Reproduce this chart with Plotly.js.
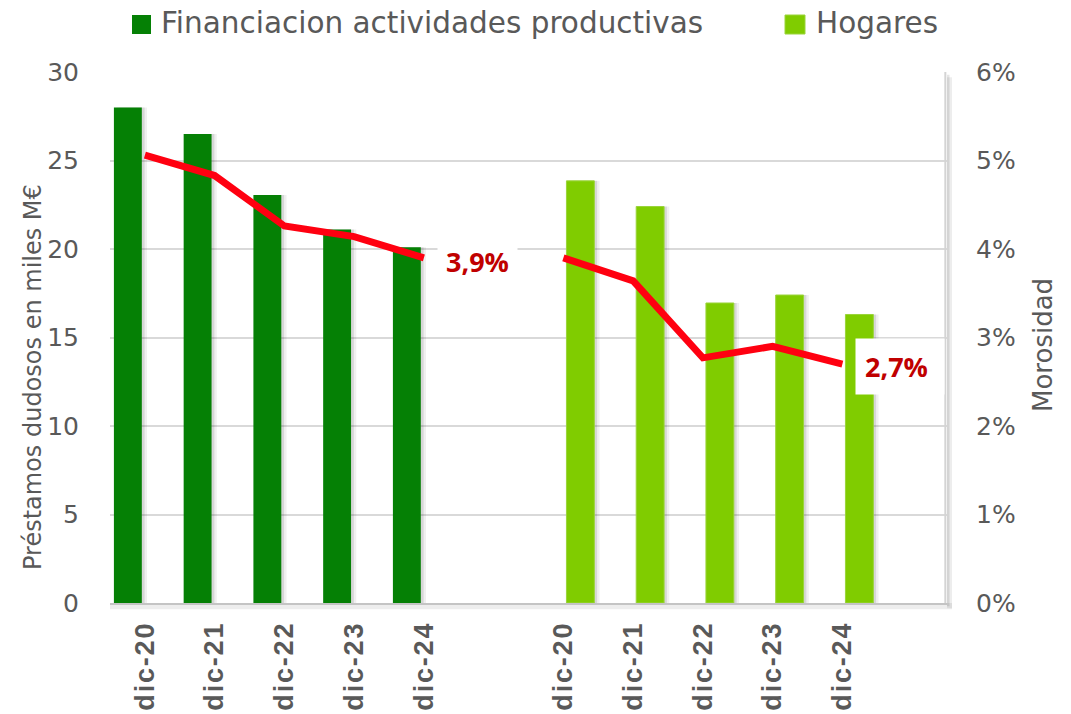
<!DOCTYPE html>
<html>
<head>
<meta charset="utf-8">
<script src="https://cdn.plot.ly/plotly-3.0.1.min.js"></script>
<style>
html,body{margin:0;padding:0;background:#fff;}
#chart{width:1071px;height:714px;}
#chart .xtick text{letter-spacing:1.8px;}
</style>
</head>
<body>
<div id="chart"></div>
<script>
// ---- data ----
const categories = ["dic-20","dic-21","dic-22","dic-23","dic-24","","dic-20","dic-21","dic-22","dic-23","dic-24",""];
const financiacion = [28.0, 26.5, 23.05, 21.1, 20.1, null, null, null, null, null, null, null];
const hogares      = [null, null, null, null, null, null, 23.85, 22.4, 16.95, 17.4, 16.3, null];
const morosidad    = [5.06, 4.83, 4.26, 4.14, 3.9, null, 3.9, 3.64, 2.77, 2.9, 2.7, null];
const leftTicks  = [0, 5, 10, 15, 20, 25, 30];
const rightTicks = [0, 1, 2, 3, 4, 5, 6];
const seriesNames = ["Financiacion actividades productivas", "Hogares"];
const seriesColors = ["#058005", "#80cc00"];
const leftTitle = "Préstamos dudosos en miles M€";
const rightTitle = "Morosidad";

const xIdx = categories.map((c, i) => i);
const FONT = "DejaVu Sans, sans-serif";
const GRAY = "#595959";
const BW = 0.4;
// pixel -> paper helpers (plot area: x 110..947, y 72..603)
const px = x => (x - 110) / 837;
const py = y => (603 - y) / 531;

const shadow = (vals, off, a) => ({
  type: "bar", x: xIdx, y: vals, width: BW, offset: off,
  marker: {color: "rgba(0,0,0," + a + ")"}, showlegend: false, hoverinfo: "skip"
});

const traces = [
  shadow(financiacion, -0.444 + 0.075, 0.06),
  shadow(financiacion, -0.444 + 0.04, 0.10),
  shadow(hogares, 0.044 + 0.075, 0.06),
  shadow(hogares, 0.044 + 0.04, 0.10),
  {type: "bar", name: seriesNames[0], x: xIdx, y: financiacion, showlegend: false,
   width: BW, offset: -0.444, marker: {color: seriesColors[0]}},
  {type: "bar", name: seriesNames[1], x: xIdx, y: hogares, showlegend: false,
   width: BW, offset: 0.044, marker: {color: seriesColors[1], line: {color: "#9ad43a", width: 1}}},
  {type: "scatter", mode: "lines", name: rightTitle, x: xIdx, y: morosidad, yaxis: "y2",
   connectgaps: false, showlegend: false,
   line: {color: "#ff0010", width: 7, shape: "linear"}}
];

const fmt = v => v.toFixed(1).replace(".", ",") + "%";
const labelFont = {family: "Open Sans, sans-serif", size: 27, color: "#c00000", weight: "bold"};

// manual legend (square + text)
const legendSquares = [
  {x0: px(132), x1: px(151), y0: py(34), y1: py(15), fillcolor: seriesColors[0], line: {width: 0}},
  {x0: px(785), x1: px(805), y0: py(34), y1: py(15), fillcolor: seriesColors[1], line: {color: "#9ad43a", width: 1}}
].map(s => Object.assign({type: "rect", xref: "paper", yref: "paper"}, s));
const legendTexts = [
  {x: px(159), text: seriesNames[0]},
  {x: px(814), text: seriesNames[1]}
].map(t => Object.assign({y: py(23), xref: "paper", yref: "paper", showarrow: false,
  xanchor: "left", yanchor: "middle", font: {family: FONT, size: 29.5, color: GRAY}}, t));

const layout = {
  width: 1071, height: 714,
  margin: {l: 110, r: 124, t: 72, b: 111, autoexpand: false},
  paper_bgcolor: "#ffffff", plot_bgcolor: "#ffffff",
  barmode: "overlay",
  showlegend: false,
  xaxis: {
    range: [-0.5, 11.5], tickmode: "array", tickvals: xIdx, ticktext: categories,
    tickangle: -90, showgrid: false, zeroline: false,
    showline: true, linecolor: "#c4c4c4", linewidth: 2,
    ticks: "", ticklabelstandoff: 6,
    tickfont: {family: "Liberation Sans, Arial, sans-serif", size: 27, color: GRAY, weight: "bold"}
  },
  yaxis: {
    range: [0, 30], tickmode: "array", tickvals: leftTicks, ticktext: leftTicks.map(String),
    showgrid: true, gridcolor: "#d9d9d9", gridwidth: 2, zeroline: false, showline: false,
    ticks: "", ticklabelstandoff: 30,
    tickfont: {family: FONT, size: 25, color: GRAY}
  },
  yaxis2: {
    overlaying: "y", side: "right", range: [0, 6], tickmode: "array",
    tickvals: rightTicks, ticktext: rightTicks.map(v => v + "%"),
    showgrid: false, zeroline: false, showline: false, ticks: "", ticklabelstandoff: 28,
    tickfont: {family: FONT, size: 25, color: GRAY}
  },
  shapes: [
    {type: "rect", xref: "paper", yref: "paper", x0: 1.0, x1: 1.006, y0: -0.01, y1: 0.99,
     fillcolor: "rgba(0,0,0,0.07)", line: {width: 0}, layer: "below"},
    {type: "rect", xref: "paper", yref: "paper", x0: 1.0, x1: 1.003, y0: -0.006, y1: 0.995,
     fillcolor: "rgba(0,0,0,0.10)", line: {width: 0}, layer: "below"},
    {type: "rect", xref: "paper", yref: "paper", x0: 0.0, x1: 1.006, y0: -0.012, y1: 0,
     fillcolor: "rgba(0,0,0,0.07)", line: {width: 0}, layer: "below"},
    {type: "line", xref: "paper", yref: "paper", x0: 0.998, x1: 0.998, y0: 0, y1: 1,
     line: {color: "#d4d4d4", width: 2}}
  ].concat(legendSquares),
  annotations: [
    {x: 4, y: morosidad[4], xref: "x", yref: "y2", text: "<b>" + fmt(morosidad[4]) + "</b>",
     showarrow: false, xanchor: "left", yanchor: "middle", xshift: 13, yshift: -4,
     bgcolor: "#ffffff", borderpad: 8, font: labelFont},
    {x: 10, y: morosidad[10], xref: "x", yref: "y2", text: "<b>" + fmt(morosidad[10]) + "</b>",
     showarrow: false, xanchor: "left", yanchor: "middle", xshift: 13, yshift: -2,
     width: 70, align: "left",
     bgcolor: "#ffffff", borderpad: 9, font: labelFont},
    {x: px(33), y: py(377), xref: "paper", yref: "paper", text: leftTitle,
     textangle: -90, showarrow: false, xanchor: "center", yanchor: "middle",
     font: {family: FONT, size: 24, color: GRAY}},
    {x: px(1043), y: py(345), xref: "paper", yref: "paper", text: rightTitle,
     textangle: -90, showarrow: false, xanchor: "center", yanchor: "middle",
     font: {family: FONT, size: 26, color: GRAY}}
  ].concat(legendTexts)
};

Plotly.newPlot("chart", traces, layout, {displayModeBar: false, responsive: false});
</script>
</body>
</html>
